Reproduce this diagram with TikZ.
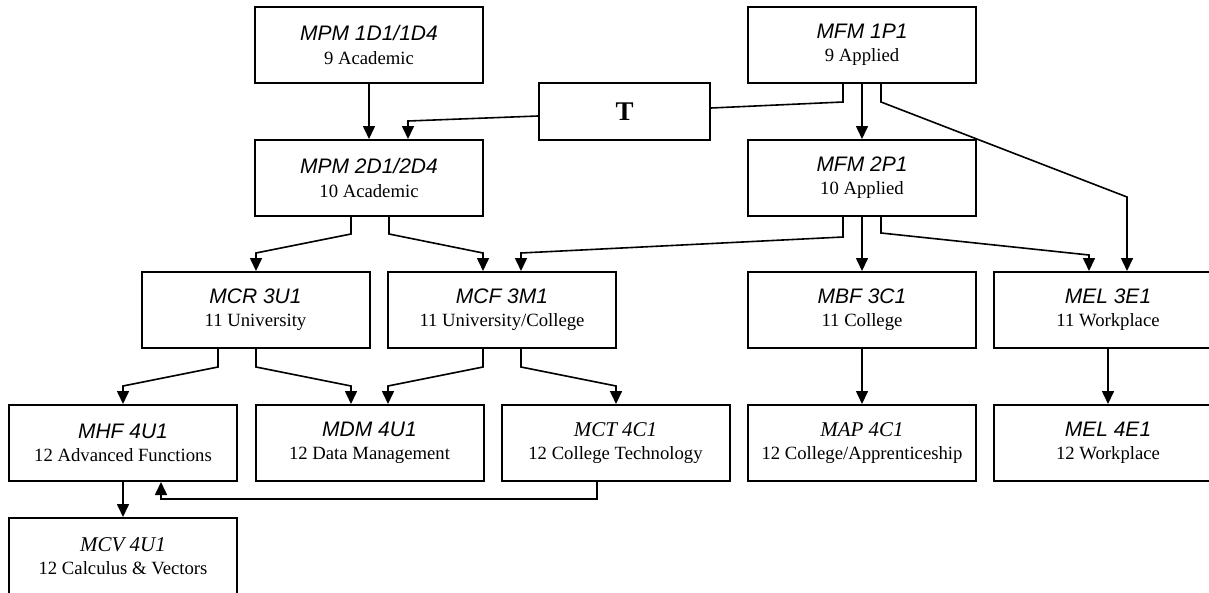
\documentclass[tikz,border=0pt]{standalone}
\usepackage{fontspec}
\setmainfont{Liberation Serif}
\newfontfamily\arialfont{Liberation Sans}
\usetikzlibrary{arrows.meta}
\newcommand\crsA[1]{{\arialfont\itshape\fontsize{21}{23.3}\selectfont #1}}
\newcommand\crsB[1]{{\itshape\fontsize{21}{23.3}\selectfont #1}}
\tikzset{
  course/.style={draw, line width=2pt, minimum width=228pt, minimum height=76pt,
    inner sep=0pt, align=center, font=\fontsize{18.7}{23.3}\selectfont},
  tbox/.style={draw, line width=2pt, minimum width=171pt, minimum height=57pt,
    inner sep=0pt, font=\fontsize{27}{30}\selectfont\bfseries},
  link/.style={line width=1.6pt},
  arr/.style={link, -{Triangle[width=12pt,length=13pt]}},
}
\begin{document}
\begin{tikzpicture}[x=1pt,y=-1pt]
\useasboundingbox (0,0) rectangle (1209,592);
\clip (0,0) rectangle (1209,592);
% boxes
\node[course] (mpm1) at (369,45)   {\crsA{MPM 1D1/1D4}\\9 Academic};
\node[course] (mfm1) at (862,45)   {\crsA{MFM 1P1}\\9 Applied};
\node[tbox]   (T)    at (624.5,111.5) {T};
\node[course] (mpm2) at (369,178)  {\crsA{MPM 2D1/2D4}\\10 Academic};
\node[course] (mfm2) at (862,178)  {\crsA{MFM 2P1}\\10 Applied};
\node[course] (mcr)  at (255.5,310) {\crsA{MCR 3U1}\\11 University};
\node[course] (mcf)  at (502,310)  {\crsA{MCF 3M1}\\11 University/College};
\node[course] (mbf)  at (862,310)  {\crsA{MBF 3C1}\\11 College};
\node[course] (mel3) at (1108,310) {\crsA{MEL 3E1}\\11 Workplace};
\node[course] (mhf)  at (123,443)  {\crsA{MHF 4U1}\\12 Advanced Functions};
\node[course] (mdm)  at (369.5,443) {\crsA{MDM 4U1}\\12 Data Management};
\node[course] (mct)  at (615.5,443) {\crsB{MCT 4C1}\\12 College Technology};
\node[course] (map)  at (862,443)  {\crsB{MAP 4C1}\\12 College/Apprenticeship};
\node[course] (mel4) at (1108,443) {\crsA{MEL 4E1}\\12 Workplace};
\node[course] (mcv)  at (123,556)  {\crsB{MCV 4U1}\\12 Calculus \& Vectors};
% connectors
\draw[arr] (mpm1.south) -- (mpm2.north);
\draw[link] ([xshift=-19pt]mfm1.south) -- (843,102) -- ([yshift=3.5pt]T.east);
\draw[arr] ([yshift=-4.5pt]T.west) -- (408,121) -- ([xshift=39pt]mpm2.north);
\draw[arr] (mfm1.south) -- (mfm2.north);
\draw[arr] ([xshift=19pt]mfm1.south) -- (881,102) -- (1127,197) -- ([xshift=19pt]mel3.north);
\draw[arr] ([xshift=-18pt]mpm2.south) -- (351,234) -- (256,253) -- ([xshift=0.5pt]mcr.north);
\draw[arr] ([xshift=20pt]mpm2.south) -- (389,234) -- (483,253) -- ([xshift=-19pt]mcf.north);
\draw[arr] ([xshift=-19pt]mfm2.south) -- (843,237) -- (521,253) -- ([xshift=19pt]mcf.north);
\draw[arr] (mfm2.south) -- (mbf.north);
\draw[arr] ([xshift=19pt]mfm2.south) -- (881,233) -- (1089,255) -- ([xshift=-19pt]mel3.north);
\draw[arr] ([xshift=-37.5pt]mcr.south) -- (218,367) -- (123,386) -- (mhf.north);
\draw[arr] ([xshift=0.5pt]mcr.south) -- (256,367) -- (351,386) -- ([xshift=-18.5pt]mdm.north);
\draw[arr] ([xshift=-19pt]mcf.south) -- (483,367) -- (388,386) -- ([xshift=18.5pt]mdm.north);
\draw[arr] ([xshift=19pt]mcf.south) -- (521,367) -- (616,386) -- ([xshift=0.5pt]mct.north);
\draw[arr] ([xshift=-18.5pt]mct.south) -- (597,499) -- (161,499) -- ([xshift=38pt]mhf.south);
\draw[arr] (mhf.south) -- (mcv.north);
\draw[arr] (mbf.south) -- (map.north);
\draw[arr] (mel3.south) -- (mel4.north);
\end{tikzpicture}
\end{document}
